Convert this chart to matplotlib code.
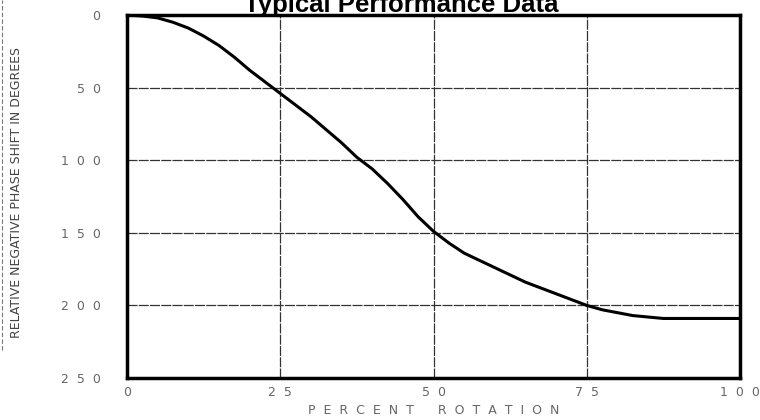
import matplotlib.pyplot as plt

# data (percent rotation vs. phase shift in degrees)
rotation = [0, 2.5, 5, 7.5, 10, 12.5, 15, 17.5, 20, 22.5, 25, 27.5, 30, 32.5, 35, 37.5,
            40, 42.5, 45, 47.5, 50, 52.5, 55, 57.5, 60, 62.5, 65, 67.5, 70, 72.5, 75,
            77.5, 80, 82.5, 85, 87.5, 90, 100]
phase = [0, 0.7, 2, 5, 9, 14.5, 21, 29, 38, 46, 54, 62, 70, 79, 88, 98,
         106, 116, 127, 139, 149, 157, 164, 169, 174, 179, 184, 188, 192, 196, 200,
         203, 205, 207, 208, 209, 209, 209]

x_ticks = [0, 25, 50, 75, 100]
y_ticks = [0, 50, 100, 150, 200, 250]
x_tick_labels = ["0", "2  5", "5  0", "7  5", "1  0  0"]
y_tick_labels = ["0", "5  0", "1  0  0", "1  5  0", "2  0  0", "2  5  0"]

fig = plt.figure(figsize=(7.6, 4.2), dpi=100)
ax = fig.add_axes([127 / 760, 42 / 420, 613 / 760, 363 / 420])

ax.plot(rotation, phase, color="black", linewidth=2.2)

ax.set_xlim(0, 100)
ax.set_ylim(250, 0)
ax.set_xticks(x_ticks)
ax.set_yticks(y_ticks)
ax.set_xticklabels(x_tick_labels)
ax.set_yticklabels(y_tick_labels)
ax.tick_params(length=0, labelsize=9, colors="#666666")
ax.tick_params(axis="y", pad=19)
ax.tick_params(axis="x", pad=6)

ax.grid(True, color="#333333", linewidth=0.9, linestyle=(0, (8, 1)))
for s in ax.spines.values():
    s.set_linewidth(2.5)
    s.set_color("black")

ax.set_xlabel("P  E  R  C  E  N  T      R  O  T  A  T  I  O  N", fontsize=9,
              color="#666666", labelpad=3)

ylab = fig.text(17 / 760, 1 - 192 / 420, "RELATIVE NEGATIVE PHASE SHIFT IN DEGREES",
                rotation=90, ha="center", va="center", fontsize=10,
                family=["Liberation Sans Narrow", "DejaVu Sans"], color="#444444")
# fit the label to the length it has in the reference
fig.canvas.draw()
h = ylab.get_window_extent().height
ylab.set_fontsize(10 * 289 / h)

fig.text(401 / 760, 1 - 12 / 420, "Typical Performance Data", ha="center", va="baseline",
         fontsize=18.5, fontweight="bold", family=["Liberation Sans", "DejaVu Sans"])

# scan border on the left edge
fig.add_artist(plt.Line2D([2 / 760, 2 / 760], [1 - 350 / 420, 1.0], transform=fig.transFigure,
                          color="#777777", linewidth=0.8, linestyle=(0, (4, 2))))

fig.savefig("out.png", dpi=100)
